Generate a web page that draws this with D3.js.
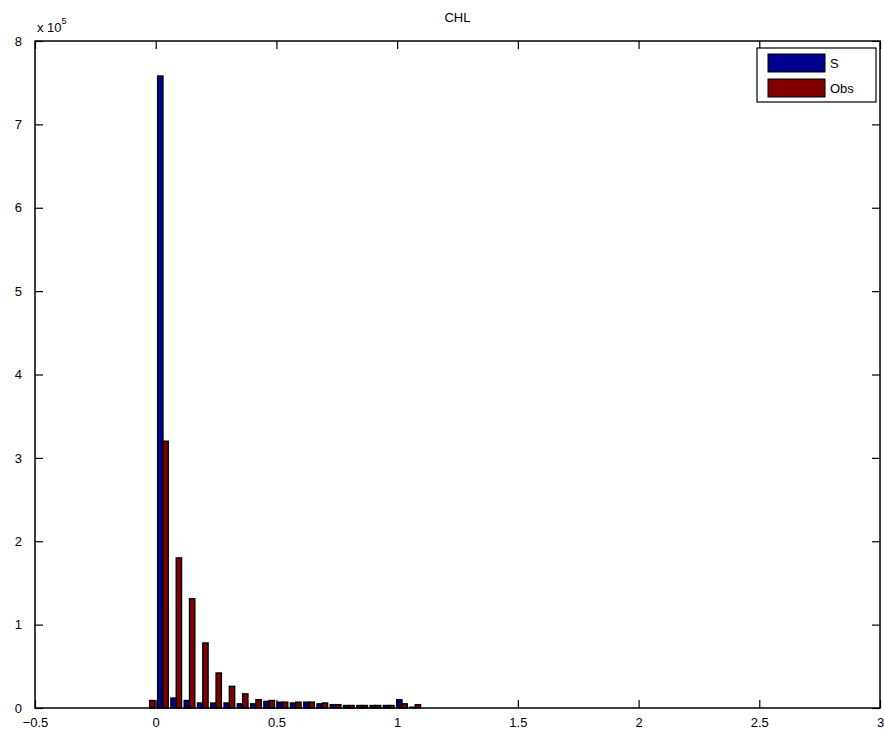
<!DOCTYPE html>
<html>
<head>
<meta charset="utf-8">
<script src="https://cdn.jsdelivr.net/npm/d3@7"></script>
<style>
  body { margin: 0; background: #fff; }
  svg { font-family: "Liberation Sans", Arial, sans-serif; }
</style>
</head>
<body>
<div id="chart"></div>
<script>
// bin centres of the histogram (x values)
const binCenters = [-0.025, 0.03, 0.085, 0.14, 0.195, 0.25, 0.305, 0.36, 0.415, 0.47, 0.525,
    0.58, 0.635, 0.69, 0.745, 0.8, 0.855, 0.91, 0.965, 1.02, 1.075];
// counts in units of 1e5
const sValues = [0, 7.58, 0.12, 0.09, 0.06, 0.06, 0.06, 0.05, 0.05, 0.08, 0.07,
    0.06, 0.07, 0.05, 0.04, 0.03, 0.03, 0.03, 0.03, 0.10, 0.01];
const obsValues = [0.09, 3.20, 1.80, 1.31, 0.78, 0.42, 0.26, 0.17, 0.10, 0.09, 0.07,
    0.07, 0.07, 0.06, 0.04, 0.03, 0.03, 0.03, 0.03, 0.05, 0.04];
const seriesNames = ["S", "Obs"];
const xTicks = [-0.5, 0, 0.5, 1, 1.5, 2, 2.5, 3];
const yTicks = [0, 1, 2, 3, 4, 5, 6, 7, 8];

const width = 884, height = 734;
const m = { left: 35, right: 880, top: 41, bottom: 708 };
const colors = ["#00008f", "#800000"];

const svg = d3.select("#chart").append("svg")
    .attr("width", width)
    .attr("height", height);

const x = d3.scaleLinear().domain([-0.5, 3]).range([m.left, m.right]);
const y = d3.scaleLinear().domain([0, 8]).range([m.bottom, m.top]);

const step = binCenters[2] - binCenters[1];
const barW = x(step * 0.4) - x(0);

const rows = binCenters.map((c, i) => ({ c: c, vals: [sValues[i], obsValues[i]] }));

const bars = svg.append("g");
rows.forEach(r => {
    r.vals.forEach((v, j) => {
        if (v <= 0) return;
        const x0 = j === 0 ? x(r.c) - barW : x(r.c);
        bars.append("rect")
            .attr("x", x0)
            .attr("y", y(v))
            .attr("width", barW)
            .attr("height", y(0) - y(v))
            .attr("fill", colors[j])
            .attr("stroke", "#000")
            .attr("stroke-width", 1.4);
    });
});

// axes with inward ticks on all four sides (matlab style)
const tickLen = 8;
svg.append("g").attr("transform", `translate(0,${m.bottom})`)
    .call(d3.axisBottom(x).tickValues(xTicks).tickSizeInner(-tickLen).tickSizeOuter(0)
        .tickPadding(tickLen + 2).tickFormat(d3.format("")));
svg.append("g").attr("transform", `translate(0,${m.top})`)
    .call(d3.axisTop(x).tickValues(xTicks).tickSizeInner(-tickLen).tickSizeOuter(0).tickFormat(""));
svg.append("g").attr("transform", `translate(${m.left},0)`)
    .call(d3.axisLeft(y).tickValues(yTicks).tickSizeInner(-tickLen).tickSizeOuter(0)
        .tickPadding(tickLen + 5).tickFormat(d3.format("")));
svg.append("g").attr("transform", `translate(${m.right},0)`)
    .call(d3.axisRight(y).tickValues(yTicks).tickSizeInner(-tickLen).tickSizeOuter(0).tickFormat(""));

svg.selectAll(".domain").remove();
svg.selectAll(".tick line").attr("stroke", "#000").attr("stroke-width", 1.2);
svg.selectAll(".tick text").attr("font-size", 13).attr("fill", "#000")
    .attr("font-family", "'Liberation Sans', Arial, sans-serif");

svg.append("rect")
    .attr("x", m.left).attr("y", m.top)
    .attr("width", m.right - m.left).attr("height", m.bottom - m.top)
    .attr("fill", "none").attr("stroke", "#000").attr("stroke-width", 1.5);

// title and exponent
svg.append("text")
    .attr("x", (m.left + m.right) / 2).attr("y", 22)
    .attr("text-anchor", "middle").attr("font-size", 13)
    .text("CHL");

const expo = svg.append("text").attr("x", 37).attr("y", 32).attr("font-size", 13);
expo.append("tspan").text("x 10");
expo.append("tspan").attr("dy", -8).attr("font-size", 9).text("5");

// legend
const lg = svg.append("g").attr("transform", "translate(757,48)");
lg.append("rect").attr("width", 119).attr("height", 54)
    .attr("fill", "#fff").attr("stroke", "#000").attr("stroke-width", 1.2);
seriesNames.forEach((n, i) => {
    lg.append("rect")
        .attr("x", 11).attr("y", 6 + i * 25)
        .attr("width", 57).attr("height", 18)
        .attr("fill", colors[i]).attr("stroke", "#000").attr("stroke-width", 1);
    lg.append("text")
        .attr("x", 73).attr("y", 20 + i * 25)
        .attr("font-size", 13)
        .text(n);
});
</script>
</body>
</html>
